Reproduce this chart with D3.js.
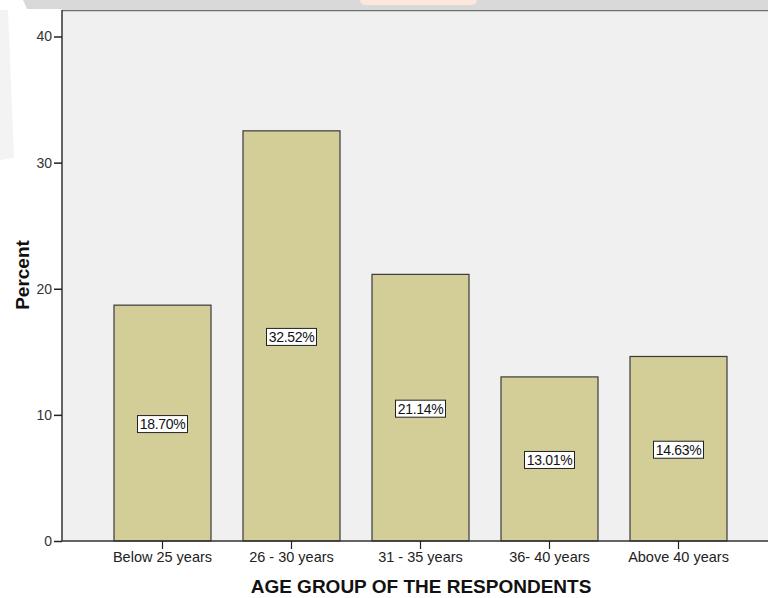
<!DOCTYPE html>
<html>
<head>
<meta charset="utf-8">
<script src="https://cdn.jsdelivr.net/npm/d3@7"></script>
<style>
  body { margin: 0; background: #ffffff; }
  text { font-family: "Liberation Sans", Arial, sans-serif; }
</style>
</head>
<body>
<div id="my_dataviz"></div>
<script>
// chart values
var categories = ["Below 25 years", "26 - 30 years", "31 - 35 years", "36- 40 years", "Above 40 years"];
var percents = [18.70, 32.52, 21.14, 13.01, 14.63];
var labels = ["18.70%", "32.52%", "21.14%", "13.01%", "14.63%"];
var yTicks = [0, 10, 20, 30, 40];

var W = 768, H = 598;
var plot = {left: 62, top: 10, right: 768, bottom: 541};

var svg = d3.select("#my_dataviz")
    .append("svg")
    .attr("width", W)
    .attr("height", H);

// faint background marks of the scanned page
svg.append("path")
    .attr("d", "M23,0 L768,0 L768,9 L27,9 Z")
    .attr("fill", "#d9d9d9");
svg.append("rect")
    .attr("x", 360).attr("y", -6)
    .attr("width", 117).attr("height", 11)
    .attr("rx", 5)
    .attr("fill", "#fde6dc");
svg.append("path")
    .attr("d", "M0,10 L8,10 L14,158 L0,160 Z")
    .attr("fill", "#f3f3f3");

// plot area
svg.append("rect")
    .attr("x", plot.left).attr("y", plot.top)
    .attr("width", plot.right - plot.left)
    .attr("height", plot.bottom - plot.top)
    .attr("fill", "#f0f0f0");

var x = d3.scaleBand()
    .domain(categories)
    .range([98, 743])
    .paddingInner(0.248)
    .paddingOuter(0.124);

var y = d3.scaleLinear()
    .domain([0, 40])
    .range([plot.bottom, 36.5]);

// bars
svg.selectAll(".bar")
    .data(percents)
    .enter()
    .append("rect")
    .attr("class", "bar")
    .attr("x", function (d, i) { return x(categories[i]); })
    .attr("y", function (d) { return y(d); })
    .attr("width", x.bandwidth())
    .attr("height", function (d) { return plot.bottom - y(d); })
    .attr("fill", "#d3ce98")
    .attr("stroke", "#3a3a3a")
    .attr("stroke-width", 1.2);

// value labels in white boxes, halfway up each bar
var lab = svg.selectAll(".lab")
    .data(percents)
    .enter()
    .append("g")
    .attr("class", "lab")
    .attr("transform", function (d, i) {
        return "translate(" + (x(categories[i]) + x.bandwidth() / 2) + "," + (y(d / 2) + 1) + ")";
    });

lab.append("rect")
    .attr("x", -25).attr("y", -8.5)
    .attr("width", 50).attr("height", 17)
    .attr("fill", "#ffffff")
    .attr("stroke", "#222")
    .attr("stroke-width", 1);

lab.append("text")
    .attr("text-anchor", "middle")
    .attr("dy", "0.36em")
    .style("font-size", "14px")
    .style("letter-spacing", "-0.3px")
    .attr("fill", "#111")
    .text(function (d, i) { return labels[i]; });

// frame top line
svg.append("line")
    .attr("x1", plot.left).attr("x2", plot.right)
    .attr("y1", plot.top + 0.5).attr("y2", plot.top + 0.5)
    .attr("stroke", "#6e6e6e")
    .attr("stroke-width", 1.5);

// y axis
var yAxis = svg.append("g")
    .attr("transform", "translate(" + plot.left + ",0)")
    .call(d3.axisLeft(y).tickValues(yTicks).tickSize(8).tickSizeOuter(0).tickPadding(2));
yAxis.select(".domain").attr("d", "M0," + plot.top + "V" + plot.bottom)
    .attr("stroke", "#333").attr("stroke-width", 1.5);
yAxis.selectAll(".tick line").attr("stroke", "#222").attr("stroke-width", 1.5);
yAxis.selectAll(".tick text")
    .style("font-size", "14px")
    .style("font-family", "'Liberation Sans', Arial, sans-serif")
    .attr("fill", "#333");

// x axis
var xAxis = svg.append("g")
    .attr("transform", "translate(0," + plot.bottom + ")")
    .call(d3.axisBottom(x).tickSize(8).tickSizeOuter(0).tickPadding(3));
xAxis.select(".domain").attr("d", "M" + plot.left + ",0H" + plot.right)
    .attr("stroke", "#333").attr("stroke-width", 1.5);
xAxis.selectAll(".tick line").attr("stroke", "#222").attr("stroke-width", 1.2);
xAxis.selectAll(".tick text")
    .style("font-size", "14.5px")
    .style("font-family", "'Liberation Sans', Arial, sans-serif")
    .attr("fill", "#222");

// axis titles
svg.append("text")
    .attr("x", 421).attr("y", 593)
    .attr("text-anchor", "middle")
    .style("font-size", "19px")
    .style("font-weight", "bold")
    .attr("fill", "#111")
    .text("AGE GROUP OF THE RESPONDENTS");

svg.append("text")
    .attr("transform", "translate(29,275) rotate(-90)")
    .attr("text-anchor", "middle")
    .style("font-size", "19px")
    .style("font-weight", "bold")
    .attr("fill", "#111")
    .text("Percent");
</script>
</body>
</html>
